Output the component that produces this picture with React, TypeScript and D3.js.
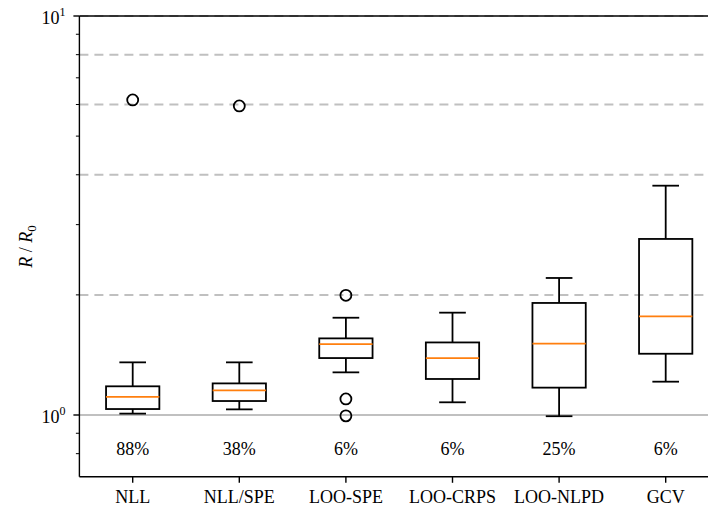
import React from "react";
import * as d3 from "d3";

const categories = ["NLL", "NLL/SPE", "LOO-SPE", "LOO-CRPS", "LOO-NLPD", "GCV"];
const whiskerLow = [1.008, 1.033, 1.279, 1.076, 0.993, 1.212];
const q1 = [1.035, 1.084, 1.389, 1.231, 1.171, 1.424];
const median = [1.11, 1.153, 1.506, 1.389, 1.509, 1.767];
const q3 = [1.18, 1.2, 1.556, 1.52, 1.909, 2.762];
const whiskerHigh = [1.355, 1.355, 1.753, 1.805, 2.205, 3.756];
const outliers = [[6.16], [5.95], [1.995, 1.097, 0.995], [], [], []];
const percentages = ["88%", "38%", "6%", "6%", "25%", "6%"];
const dashedRefs = [2, 4, 6, 8, 10];
const minorTicks = [0.8, 0.9, 2, 3, 4, 5, 6, 7, 8, 9];
const majorTicks = [{ v: 1, exp: "0" }, { v: 10, exp: "1" }];
const yDomain = [0.7, 10];
const pctY = 0.82;

const W = 708;
const H = 511;
const left = 79.4;
const top = 16;
const bottom = 476.8;
const right = 719;
const FONT = "Liberation Serif, Times New Roman, Times, serif";
const tf: React.CSSProperties = { fontFamily: FONT };

export default function App() {
  const x = d3.scaleLinear().domain([0.5, 6.5]).range([left, right]);
  const y = d3.scaleLog().domain(yDomain).range([bottom, top]);
  const unit = x(2) - x(1);
  const boxW = unit * 0.5;
  const capW = unit * 0.25;

  return (
    <svg
      width={W}
      height={H}
      style={{ position: "absolute", left: 0, top: 0, background: "#fff", fontFamily: FONT }}
    >
      <defs>
        <clipPath id="plot">
          <rect x={left} y={top - 2} width={W - left} height={bottom - top + 4} />
        </clipPath>
      </defs>
      <g clipPath="url(#plot)">
        {dashedRefs.map((v) => (
          <line
            key={"d" + v}
            x1={left}
            x2={right}
            y1={y(v)}
            y2={y(v)}
            stroke="#c0c0c0"
            strokeWidth={2}
            strokeDasharray="9,6"
          />
        ))}
        <line x1={left} x2={right} y1={y(1)} y2={y(1)} stroke="#c0c0c0" strokeWidth={2} />
      </g>

      {categories.map((c, i) => {
        const cx = x(i + 1);
        return (
          <g key={c} fill="none" stroke="#000" strokeWidth={1.8}>
            <line x1={cx} x2={cx} y1={y(whiskerLow[i])} y2={y(q1[i])} />
            <line x1={cx} x2={cx} y1={y(q3[i])} y2={y(whiskerHigh[i])} />
            <line x1={cx - capW / 2} x2={cx + capW / 2} y1={y(whiskerLow[i])} y2={y(whiskerLow[i])} />
            <line x1={cx - capW / 2} x2={cx + capW / 2} y1={y(whiskerHigh[i])} y2={y(whiskerHigh[i])} />
            <rect x={cx - boxW / 2} y={y(q3[i])} width={boxW} height={y(q1[i]) - y(q3[i])} />
            <line
              x1={cx - boxW / 2}
              x2={cx + boxW / 2}
              y1={y(median[i])}
              y2={y(median[i])}
              stroke="#ff7f0e"
            />
            {outliers[i].map((o, j) => (
              <circle key={j} cx={cx} cy={y(o)} r={5.5} />
            ))}
            <text
              x={cx}
              y={y(pctY)}
              fill="#000"
              stroke="none"
              fontSize={18}
              textAnchor="middle"
              dominantBaseline="central"
              style={tf}
            >
              {percentages[i]}
            </text>
          </g>
        );
      })}

      {/* spines */}
      <line x1={left} x2={left} y1={top} y2={bottom} stroke="#000" strokeWidth={1.4} />
      <line x1={left} x2={W} y1={top} y2={top} stroke="#000" strokeWidth={1.4} />
      <line x1={left} x2={W} y1={bottom} y2={bottom} stroke="#000" strokeWidth={1.4} />

      {/* y ticks */}
      {minorTicks.map((v) => (
        <line key={"m" + v} x1={left - 3.5} x2={left} y1={y(v)} y2={y(v)} stroke="#000" strokeWidth={1} />
      ))}
      {majorTicks.map((t) => (
        <g key={"M" + t.v}>
          <line x1={left - 6} x2={left} y1={y(t.v)} y2={y(t.v)} stroke="#000" strokeWidth={1.4} />
          <text x={left - 14} y={y(t.v) + 8} fontSize={18} textAnchor="end" style={tf}>
            10
            <tspan fontSize={12} dy={-8}>
              {t.exp}
            </tspan>
          </text>
        </g>
      ))}

      {/* x ticks */}
      {categories.map((c, i) => (
        <g key={"xt" + c}>
          <line x1={x(i + 1)} x2={x(i + 1)} y1={bottom} y2={bottom + 6} stroke="#000" strokeWidth={1.4} />
          <text x={x(i + 1)} y={bottom + 26} fontSize={18} textAnchor="middle" style={tf}>
            {c}
          </text>
        </g>
      ))}

      {/* y label */}
      <text
        transform={`translate(32, ${y(Math.sqrt(yDomain[0] * yDomain[1]))}) rotate(-90)`}
        fontSize={18}
        textAnchor="middle"
        style={tf}
      >
        <tspan fontStyle="italic">R</tspan>
        <tspan> / </tspan>
        <tspan fontStyle="italic">R</tspan>
        <tspan fontSize={13} dy={4}>0</tspan>
      </text>
    </svg>
  );
}
